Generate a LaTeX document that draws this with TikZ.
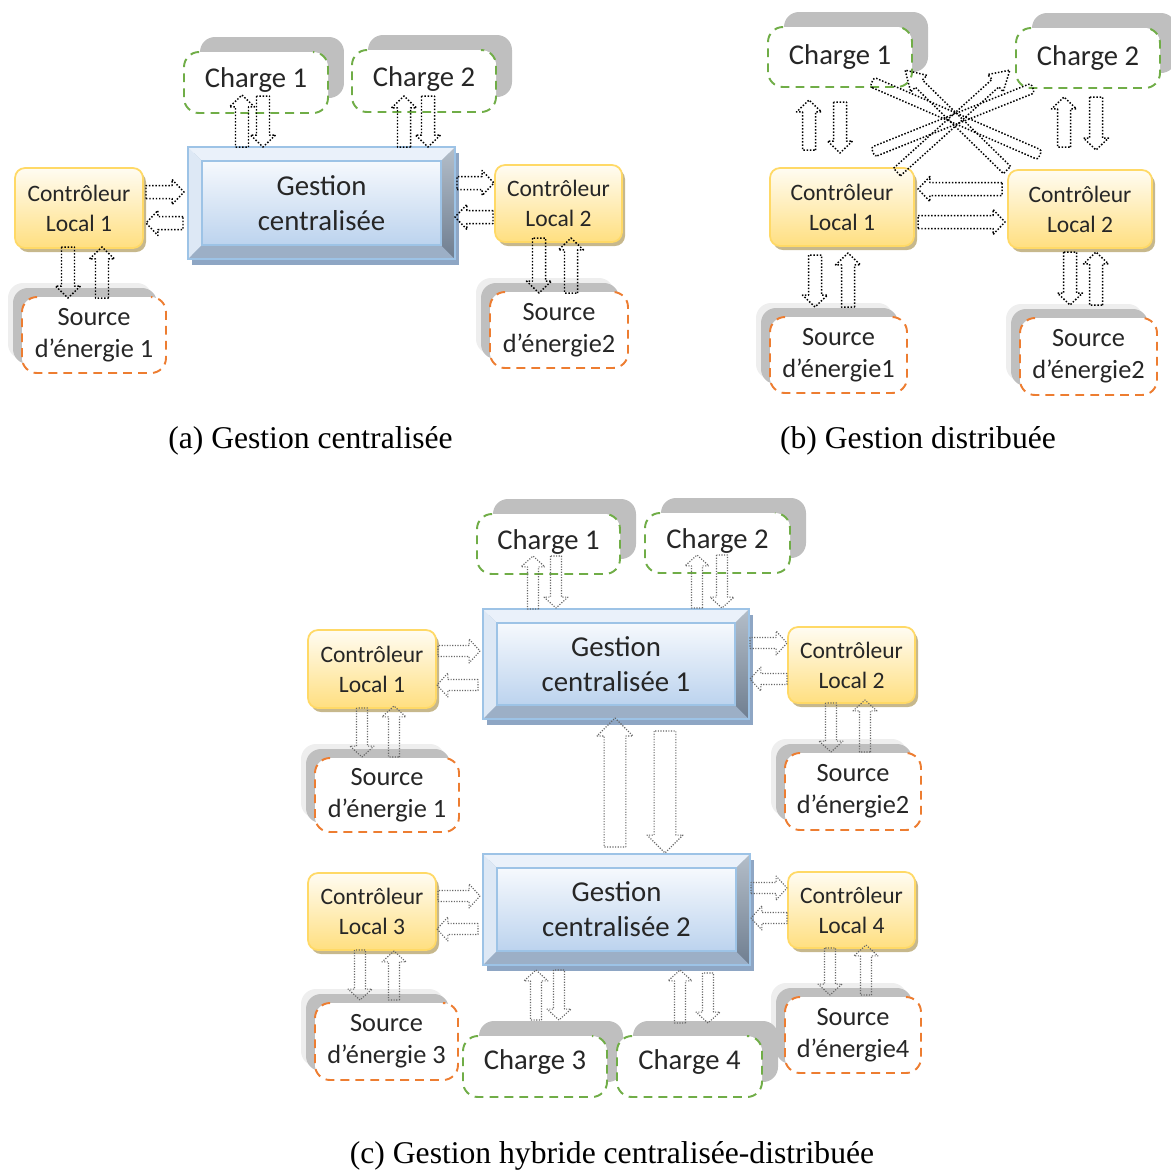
\documentclass[tikz,border=0pt]{standalone}
\usepackage{fontspec}
\setmainfont{Carlito}
\newfontfamily\capfont{Liberation Serif}
\usetikzlibrary{calc,shadows}

\definecolor{gbord}{HTML}{9DC3E6}
\definecolor{gface1}{HTML}{F6F9FD}
\definecolor{gface2}{HTML}{BCD3EE}
\definecolor{gtop}{HTML}{EAF1FA}
\definecolor{gleft}{HTML}{DDE8F5}
\definecolor{gbot}{HTML}{9CAFC6}
\definecolor{gright1}{HTML}{B4BEC9}
\definecolor{gright2}{HTML}{6F7E90}
\definecolor{gshadow}{HTML}{8EA6C4}
\definecolor{ytop}{HTML}{FFFCF2}
\definecolor{ybot}{HTML}{FFDF80}
\definecolor{yline}{HTML}{FFD966}
\definecolor{yshadow}{HTML}{C7B88C}
\definecolor{loadgreen}{HTML}{70AD47}
\definecolor{srcorange}{HTML}{ED7D31}
\definecolor{boxshade}{HTML}{BFBFBF}
\definecolor{halo}{HTML}{EEEEEE}
\definecolor{ink}{HTML}{262626}

% block arrow: start, tip, shaft half-width, head half-width, head length
\newcommand\blockarr[6][barrowA]{%
  \draw[#1] let \p1=(#2), \p2=(#3),
      \n1={atan2(\y2-\y1,\x2-\x1)}, \n2={veclen(\x2-\x1,\y2-\y1)} in
    [shift={(\p1)}, rotate=\n1]
    (0pt,-#4) -- (\n2*1pt-#6,-#4) -- (\n2*1pt-#6,-#5) -- (\n2*1pt,0pt)
    -- (\n2*1pt-#6,#5) -- (\n2*1pt-#6,#4) -- (0pt,#4) -- cycle;}
% long bar between two points
\newcommand\blockbar[3]{%
  \draw[barrowA, rounded corners=1.5pt] let \p1=(#1), \p2=(#2),
      \n1={atan2(\y2-\y1,\x2-\x1)}, \n2={veclen(\x2-\x1,\y2-\y1)} in
    [shift={(\p1)}, rotate=\n1]
    (0pt,-#3) -- (\n2*1pt,-#3) -- (\n2*1pt,#3) -- (0pt,#3) -- cycle;}
\newcommand\arrA[2]{\blockarr[barrowA]{#1}{#2}{3.7pt}{7.1pt}{6.8pt}}
\newcommand\arrD[2]{\blockarr[barrowA]{#1}{#2}{2.9pt}{6.6pt}{11pt}}
\newcommand\arrC[2]{\blockarr[barrowC]{#1}{#2}{3.1pt}{6.8pt}{6.2pt}}
\newcommand\arrBig[2]{\blockarr[barrowC]{#1}{#2}{6.2pt}{10.2pt}{10.2pt}}
% dashed outline with the straight top edge left open
\newcommand\openbox[2]{%
  \draw[#2, rounded corners=0.3cm] ($(#1.north west)+(15,0)$) -- (#1.north west)
    -- (#1.south west) -- (#1.south east) -- (#1.north east) -- ($(#1.north east)+(-15,0)$);}

\tikzset{
  sz/.style 2 args={minimum width=#1*0.02cm, minimum height=#2*0.02cm},
  barrowA/.style={draw=black, line width=0.85pt, dash pattern=on 0.85pt off 1.0pt, line join=round},
  barrowC/.style={draw=black!60, line width=0.65pt, dash pattern=on 0.65pt off 0.85pt, line join=round},
  greenline/.style={draw=loadgreen, line width=1.1pt, dash pattern=on 5pt off 3.5pt},
  orangeline/.style={draw=srcorange, line width=1.1pt, dash pattern=on 5pt off 3.5pt},
  charge/.style={rectangle, rounded corners=0.3cm, fill=white, inner sep=0pt, outer sep=0pt,
    font=\fontsize{16.3}{19.5}\selectfont,
    general shadow={fill=boxshade, shadow xshift=0.32cm, shadow yshift=0.30cm}},
  lift/.style={text depth=0.55em},
  liftmore/.style={text depth=0.75em},
  source/.style={rectangle, rounded corners=0.3cm, fill=white, inner sep=0pt, outer sep=0pt,
    align=center, font=\fontsize{15}{18}\selectfont,
    general shadow={fill=halo, shadow xshift=-0.28cm, shadow yshift=0.28cm},
    general shadow={fill=boxshade, shadow xshift=-0.18cm, shadow yshift=0.18cm}},
  ctrl/.style={rectangle, rounded corners=0.2cm, draw=yline, line width=1pt, inner sep=0pt,
    outer sep=0pt, align=center, font=\fontsize{13.4}{17}\selectfont,
    general shadow={fill=yshadow, shadow xshift=0.06cm, shadow yshift=-0.08cm},
    path picture={\shade[top color=ytop, bottom color=ybot]
      (path picture bounding box.south west) rectangle (path picture bounding box.north east);}},
  gest/.style={rectangle, draw=gbord, line width=1.2pt, inner sep=0pt, outer sep=0pt,
    align=center, font=\fontsize{16.4}{19.8}\selectfont,
    general shadow={fill=gshadow, shadow xshift=0.08cm, shadow yshift=-0.12cm},
    path picture={
      \path (path picture bounding box.north west) coordinate (bvA)
            (path picture bounding box.north east) coordinate (bvB)
            (path picture bounding box.south east) coordinate (bvC)
            (path picture bounding box.south west) coordinate (bvD);
      \fill[gtop] (bvA) -- (bvB) -- ($(bvB)+(-14,14)$) -- ($(bvA)+(14,14)$) -- cycle;
      \fill[gleft] (bvA) -- (bvD) -- ($(bvD)+(14,-14)$) -- ($(bvA)+(14,14)$) -- cycle;
      \fill[gbot] (bvD) -- (bvC) -- ($(bvC)+(-14,-14)$) -- ($(bvD)+(14,-14)$) -- cycle;
      \shade[top color=gright1, bottom color=gright2]
        (bvB) -- (bvC) -- ($(bvC)+(-14,-14)$) -- ($(bvB)+(-14,14)$) -- cycle;
      \shade[top color=gface1, bottom color=gface2]
        ($(bvA)+(14,14)$) rectangle ($(bvC)+(-14,-14)$);
      \draw[gbord, line width=0.8pt] ($(bvA)+(14,14)$) rectangle ($(bvC)+(-14,-14)$);
    }},
  caption/.style={font=\capfont\fontsize{18}{22}\selectfont, text=black}
}

\begin{document}
\begin{tikzpicture}[x=0.02cm, y=-0.02cm, text=ink]
\useasboundingbox (0,0) rectangle (1171,1171);

% ---------- (a) centralised management ----------
\node[charge, lift, sz={144}{61}] (cha1) at (256,82.5) {Charge 1};
\node[charge, lift, sz={144}{62}] (cha2) at (424,81) {Charge 2};
\openbox{cha1}{greenline}
\openbox{cha2}{greenline}
\node[gest, sz={267}{112}] (ga) at (321.5,203) {Gestion\\centralisée};
\node[ctrl, sz={128}{80}] (cla1) at (79,208) {Contrôleur\\Local 1};
\node[ctrl, sz={127}{77}] (cla2) at (558.5,203.5) {Contrôleur\\Local 2};
\node[source, sz={144}{76}] (sa1) at (94,335) {Source\\d’énergie 1};
\node[source, sz={138}{76}] (sa2) at (559,330) {Source\\d’énergie2};
\openbox{sa1}{orangeline}
\openbox{sa2}{orangeline}

\arrA{$(ga)+(-79.5,-56)$}{$(cha1)+(-14,12.5)$}
\arrA{$(cha1)+(7,13.5)$}{$(ga)+(-58.5,-56)$}
\arrA{$(ga)+(82.5,-56)$}{$(cha2)+(-20,15)$}
\arrA{$(cha2)+(4,15)$}{$(ga)+(106.5,-56)$}
\arrA{$(cla1)+(67,-16)$}{$(ga)+(-137.5,-11)$}
\arrA{$(ga)+(-138.5,20)$}{$(cla1)+(67,15)$}
\arrA{$(ga)+(135.5,-20)$}{$(cla2)+(-64.5,-20.5)$}
\arrA{$(cla2)+(-65.5,13.5)$}{$(ga)+(133.5,14)$}
\arrA{$(cla1)+(-11,39)$}{$(sa1)+(-26,-37)$}
\arrA{$(sa1)+(8,-37)$}{$(cla1)+(23,39)$}
\arrA{$(cla2)+(-19.5,34.5)$}{$(sa2)+(-20,-37)$}
\arrA{$(sa2)+(12,-37)$}{$(cla2)+(12.5,34.5)$}

\node[caption] (capa) at (310.5,441) {(a) Gestion centralisée};

% ---------- (b) distributed management ----------
\node[charge, sz={144}{60}] (chb1) at (840,57) {Charge 1};
\node[charge, sz={144}{60}] (chb2) at (1088,58) {Charge 2};
\openbox{chb1}{greenline}
\openbox{chb2}{greenline}
\node[ctrl, sz={144}{78}] (clb1) at (842,207) {Contrôleur\\Local 1};
\node[ctrl, sz={144}{78}] (clb2) at (1080,209) {Contrôleur\\Local 2};
\node[source, sz={137}{76}] (sb1) at (838.5,355) {Source\\d’énergie1};
\node[source, sz={137}{77}] (sb2) at (1088.5,356.5) {Source\\d’énergie2};
\openbox{sb1}{orangeline}
\openbox{sb2}{orangeline}

\arrA{$(clb1)+(-33,-57)$}{$(chb1)+(-31,43)$}
\arrA{$(chb1)+(0,45)$}{$(clb1)+(-2,-54)$}
\arrA{$(clb2)+(-16,-62)$}{$(chb2)+(-24,39)$}
\arrA{$(chb2)+(8,39)$}{$(clb2)+(16,-59)$}
\arrA{$(clb2)+(-78,-20)$}{$(clb1)+(76,-18)$}
\arrA{$(clb1)+(76,15)$}{$(clb2)+(-75,13)$}
\arrA{$(clb1)+(-27,48)$}{$(sb1)+(-23.5,-48)$}
\arrA{$(sb1)+(9.5,-48)$}{$(clb1)+(6,46)$}
\arrA{$(clb2)+(-10,43)$}{$(sb2)+(-18.5,-51.5)$}
\arrA{$(sb2)+(7.5,-51.5)$}{$(clb2)+(16,43)$}
\blockbar{$(chb1)+(32,25)$}{$(clb2)+(-40,-54)$}{2.9pt}
\blockbar{$(clb1)+(31,-55)$}{$(chb2)+(-55,30)$}{2.9pt}
\arrD{$(clb1)+(55,-35)$}{$(chb2)+(-78,12)$}
\arrD{$(clb2)+(-73,-39)$}{$(chb1)+(65,13)$}

\node[caption] (capb) at (918,441) {(b) Gestion distribuée};

% ---------- (c) hybrid centralised-distributed management ----------
\node[charge, lift, sz={143}{60}] (chc1) at (548.5,544) {Charge 1};
\node[charge, lift, sz={145}{60}] (chc2) at (717.5,543) {Charge 2};
\openbox{chc1}{greenline}
\openbox{chc2}{greenline}
\node[gest, sz={266}{110}] (gc1) at (616,664) {Gestion\\centralisée 1};
\node[gest, sz={267}{111}] (gc2) at (616.5,909.5) {Gestion\\centralisée 2};
\node[ctrl, sz={128}{78}] (clc1) at (372,669) {Contrôleur\\Local 1};
\node[ctrl, sz={127}{76}] (clc2) at (851.5,665) {Contrôleur\\Local 2};
\node[ctrl, sz={128}{77}] (clc3) at (372,911.5) {Contrôleur\\Local 3};
\node[ctrl, sz={127}{76}] (clc4) at (851.5,910) {Contrôleur\\Local 4};
\node[source, sz={144}{74}] (sc1) at (387,795) {Source\\d’énergie 1};
\node[source, sz={136}{77}] (sc2) at (853,791.5) {Source\\d’énergie2};
\node[source, sz={143}{77}] (sc3) at (386.5,1041.5) {Source\\d’énergie 3};
\node[source, sz={136}{76}] (sc4) at (853,1035) {Source\\d’énergie4};
\openbox{sc1}{orangeline}
\openbox{sc2}{orangeline}
\openbox{sc3}{orangeline}
\openbox{sc4}{orangeline}
\node[charge, liftmore, sz={144}{61}] (chc3) at (535,1066.5) {Charge 3};
\openbox{chc3}{greenline}
\node[charge, liftmore, sz={145}{61}] (chc4) at (689.5,1066.5) {Charge 4};
\openbox{chc4}{greenline}

\arrC{$(gc1)+(-83,-55)$}{$(chc1)+(-15.5,12)$}
\arrC{$(chc1)+(7.5,12)$}{$(gc1)+(-60,-56)$}
\arrC{$(gc1)+(81,-56)$}{$(chc2)+(-20.5,12)$}
\arrC{$(chc2)+(4.5,12)$}{$(gc1)+(106,-56)$}
\arrC{$(clc1)+(66,-18)$}{$(gc1)+(-136,-13)$}
\arrC{$(gc1)+(-138,21)$}{$(clc1)+(65,16)$}
\arrC{$(gc1)+(134,-21)$}{$(clc2)+(-64.5,-22)$}
\arrC{$(clc2)+(-64.5,14)$}{$(gc1)+(134,15)$}
\arrC{$(clc1)+(-10,39)$}{$(sc1)+(-25,-38)$}
\arrC{$(sc1)+(7,-38)$}{$(clc1)+(22,37)$}
\arrC{$(clc2)+(-20.5,38)$}{$(sc2)+(-22,-39.5)$}
\arrC{$(sc2)+(12,-39.5)$}{$(clc2)+(13.5,35)$}
\arrBig{$(gc2)+(-1.5,-62.5)$}{$(gc1)+(-1,54)$}
\arrBig{$(gc1)+(49,67)$}{$(gc2)+(48.5,-56.5)$}
\arrC{$(clc3)+(66,-15.5)$}{$(gc2)+(-136.5,-13.5)$}
\arrC{$(gc2)+(-138.5,19.5)$}{$(clc3)+(65,17.5)$}
\arrC{$(gc2)+(134.5,-21.5)$}{$(clc4)+(-64.5,-22)$}
\arrC{$(clc4)+(-64.5,8)$}{$(gc2)+(134.5,8.5)$}
\arrC{$(clc3)+(-12,38.5)$}{$(sc3)+(-26.5,-41.5)$}
\arrC{$(sc3)+(7.5,-41.5)$}{$(clc3)+(22,39.5)$}
\arrC{$(chc3)+(1,-46.5)$}{$(gc2)+(-80.5,60.5)$}
\arrC{$(gc2)+(-57.5,60.5)$}{$(chc3)+(24,-46.5)$}
\arrC{$(chc4)+(-9.5,-43.5)$}{$(gc2)+(63.5,60.5)$}
\arrC{$(gc2)+(91.5,63.5)$}{$(chc4)+(18.5,-43.5)$}
\arrC{$(clc4)+(-21.5,38)$}{$(sc4)+(-23,-40)$}
\arrC{$(sc4)+(13,-40)$}{$(clc4)+(14.5,35)$}

\node[caption] (capc) at (612,1156) {(c) Gestion hybride centralisée-distribuée};
\end{tikzpicture}
\end{document}
